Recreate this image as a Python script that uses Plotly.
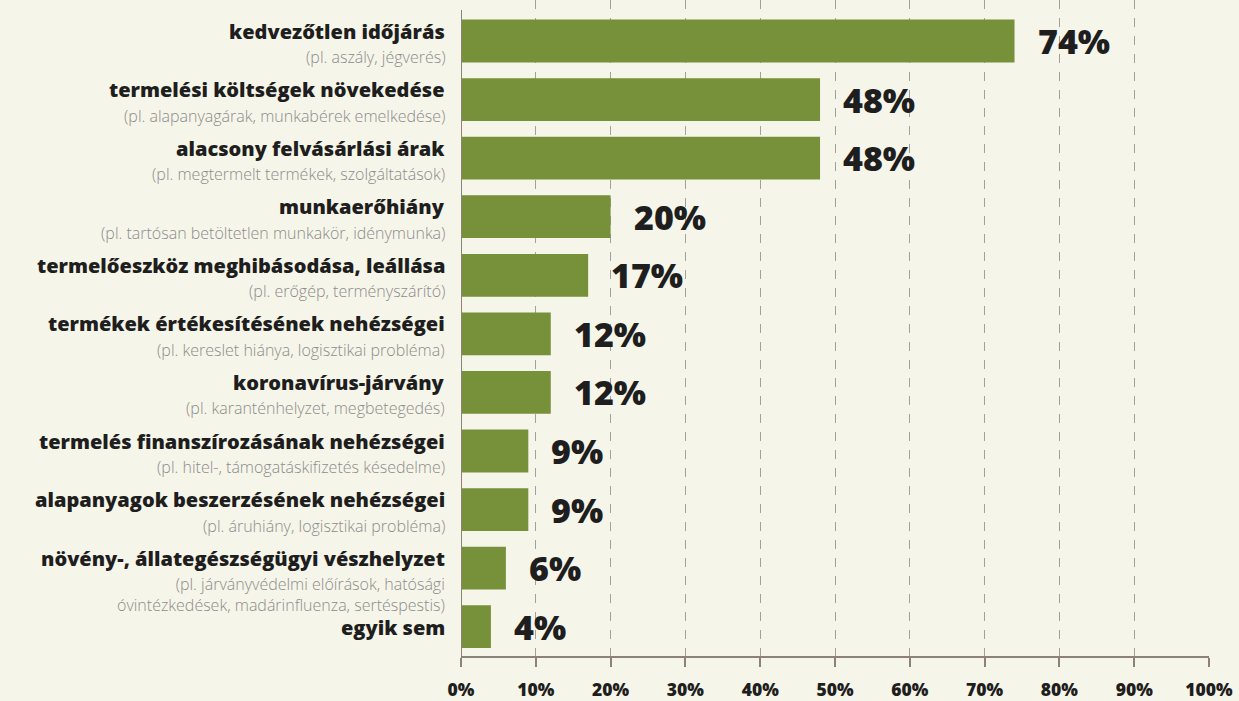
import plotly.graph_objects as go

# Survey results: share of respondents naming each difficulty (%)
titles = [
    "kedvezőtlen időjárás",
    "termelési költségek növekedése",
    "alacsony felvásárlási árak",
    "munkaerőhiány",
    "termelőeszköz meghibásodása, leállása",
    "termékek értékesítésének nehézségei",
    "koronavírus-járvány",
    "termelés finanszírozásának nehézségei",
    "alapanyagok beszerzésének nehézségei",
    "növény-, állategészségügyi vészhelyzet",
    "egyik sem",
]
subtitles = [
    "(pl. aszály, jégverés)",
    "(pl. alapanyagárak, munkabérek emelkedése)",
    "(pl. megtermelt termékek, szolgáltatások)",
    "(pl. tartósan betöltetlen munkakör, idénymunka)",
    "(pl. erőgép, terményszárító)",
    "(pl. kereslet hiánya, logisztikai probléma)",
    "(pl. karanténhelyzet, megbetegedés)",
    "(pl. hitel-, támogatáskifizetés késedelme)",
    "(pl. áruhiány, logisztikai probléma)",
    "(pl. járványvédelmi előírások, hatósági<br>óvintézkedések, madárinfluenza, sertéspestis)",
    "",
]
values = [74, 48, 48, 20, 17, 12, 12, 9, 9, 6, 4]

tick_vals = [0, 10, 20, 30, 40, 50, 60, 70, 80, 90, 100]
tick_text = ["0%", "10%", "20%", "30%", "40%", "50%", "60%", "70%", "80%", "90%", "100%"]

BG = "#F6F5E9"
GREEN = "#76913A"
AXIS = "#8E8178"
GRID = "#A3A09B"
DARK = "#1E1E1E"
GREY = "#8C8C8C"
FONT = "Open Sans"

fig = go.Figure(
    go.Bar(
        x=values,
        y=titles,
        orientation="h",
        width=0.73,
        marker=dict(color=GREEN, line=dict(width=0)),
        hoverinfo="skip",
    )
)

annotations = []
for t, s, v in zip(titles, subtitles, values):
    # percentage label right of the bar
    annotations.append(dict(
        x=v, y=t, xref="x", yref="y", xanchor="left", yanchor="middle",
        xshift=21, text=f"{v}%", showarrow=False,
        font=dict(family=FONT, size=34, color=DARK, weight=800),
    ))
    # category title, right-aligned left of the axis
    annotations.append(dict(
        x=0, y=t, xref="paper", yref="y", xanchor="right", yanchor="middle",
        xshift=-14, yshift=10 if s else -1, text=t, showarrow=False,
        font=dict(family=FONT, size=20, color=DARK, weight=800),
    ))
    # explanatory examples under the title
    if s:
        annotations.append(dict(
            x=0, y=t, xref="paper", yref="y", xanchor="right", yanchor="top",
            align="right", xshift=-14, yshift=-3, text=s, showarrow=False,
            font=dict(family=FONT, size=16, color=GREY, weight=300),
        ))

fig.update_layout(
    width=1239,
    height=701,
    margin=dict(l=461, r=30, t=0, b=43),
    paper_bgcolor=BG,
    plot_bgcolor=BG,
    showlegend=False,
    annotations=annotations,
    shapes=[dict(
        type="line", xref="x", yref="y", x0=0, x1=0, y0=-0.53, y1=10.5,
        line=dict(color=AXIS, width=2), layer="above",
    )],
    xaxis=dict(
        range=[0, 100],
        tickvals=tick_vals,
        ticktext=tick_text,
        showgrid=True,
        gridcolor=GRID,
        griddash="dash",
        gridwidth=1,
        zeroline=False,
        showline=True,
        linecolor=AXIS,
        linewidth=2,
        ticks="outside",
        ticklen=9,
        tickwidth=2,
        tickcolor=AXIS,
        ticklabelstandoff=8,
        tickfont=dict(family=FONT, size=17.5, color=DARK, weight=800),
        fixedrange=True,
    ),
    yaxis=dict(
        range=[10.5, -0.7],
        showticklabels=False,
        showgrid=False,
        zeroline=False,
        showline=False,
        ticks="",
        fixedrange=True,
    ),
)

fig.write_html("out.html")
